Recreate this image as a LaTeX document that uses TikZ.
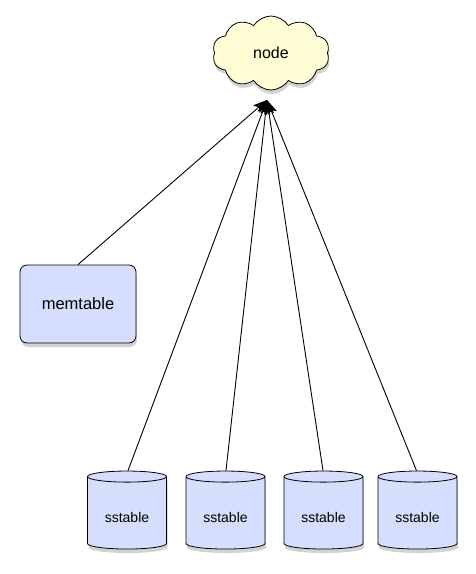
\documentclass[tikz,border=0pt]{standalone}
\usepackage{fontspec}
\setmainfont{Liberation Sans}
\usetikzlibrary{shapes.symbols,shapes.geometric,shadows,arrows.meta}

\definecolor{tablefill}{HTML}{D5DFFD}
\definecolor{cloudfill}{HTML}{FFFDD6}

\begin{document}
\begin{tikzpicture}[x=1pt,y=-1pt,
	shade/.style={drop shadow={shadow xshift=1pt,shadow yshift=-4pt,opacity=0.35}},
	cloudnode/.style={cloud,cloud puffs=10,cloud puff arc=115,aspect=1.6,draw,thick,fill=cloudfill,
		minimum width=117pt,minimum height=74pt,inner sep=0pt,font=\fontsize{16}{18}\selectfont,shade},
	memnode/.style={rectangle,rounded corners=7pt,draw,thick,fill=tablefill,
		minimum width=116pt,minimum height=78pt,font=\fontsize{16.5}{18}\selectfont,shade},
	disknode/.style={cylinder,shape border rotate=90,aspect=0.25,draw,thick,fill=tablefill,
		minimum width=79pt,minimum height=78pt,inner sep=0pt,font=\fontsize{14}{16}\selectfont,shade},
	feed/.style={-{Stealth[length=14pt,width=10pt,inset=3pt]},line width=0.9pt}]

	\useasboundingbox (0,0) rectangle (476,574);

	\pgfmathsetmacro{\disktop}{474}		%top of the disks
	\pgfmathsetmacro{\diskh}{78}		%height of the disks

	\node[cloudnode] (node) at (271,53) {node};
	\node[memnode] (mem) at (78,304) {memtable};
	\coordinate (tip) at (267,100);

	\foreach \x/\n in {127/1,225.5/2,323.5/3,417.5/4}
		\node[disknode] (disk\n) at (\x,\disktop+\diskh/2) {\raisebox{-9pt}[0pt][0pt]{sstable}};

	\draw[feed] (mem.north) -- (tip);
	\foreach \n/\dx in {1/1,2/0.5,3/-0.5,4/-1}
		\draw[feed] ([xshift=\dx pt]disk\n.north) -- (tip);

\end{tikzpicture}
\end{document}
